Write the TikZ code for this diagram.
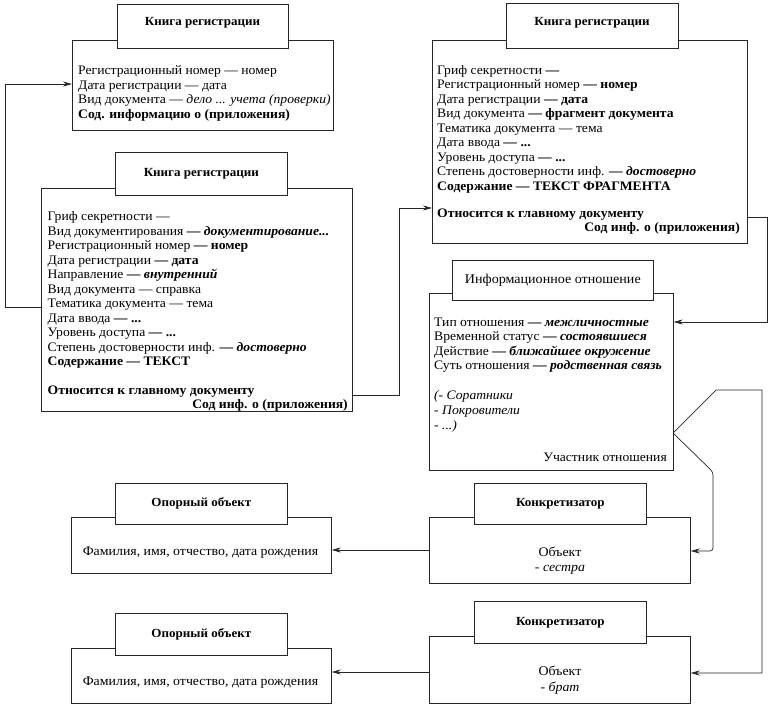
\documentclass[tikz,border=0pt]{standalone}
\usepackage{fontspec}
\setmainfont{Liberation Serif}[FakeStretch=1.05]
\usetikzlibrary{arrows.meta}
\begin{document}
\begin{tikzpicture}[x=1pt,y=-1pt,
  lc/.style={draw=black!85,line width=0.7pt},
  box/.style={lc,rectangle,inner sep=0pt,anchor=north west},
  tfont/.style={font=\bfseries\fontsize{12.4}{14}\selectfont},
  ttl/.style={lc,rectangle,fill=white,inner sep=0pt,anchor=north west,tfont},
  ttn/.style={lc,rectangle,fill=white,inner sep=0pt,anchor=north west,font=\fontsize{13.4}{15}\selectfont},
  txt/.style={anchor=base west,inner sep=0pt,font=\fontsize{13}{14.5}\selectfont},
  txr/.style={anchor=base east,inner sep=0pt,font=\fontsize{13}{14.5}\selectfont},
  ctx/.style={inner sep=0pt,align=center,font=\fontsize{13.2}{15.5}\selectfont},
  arr/.style={lc,-{Stealth[length=9pt,width=5pt]}}]
\useasboundingbox (0,0) rectangle (777,711);
% ---------- box 1 ----------
\node[box,minimum width=261pt,minimum height=90pt] (b1) at (72,40) {};
\node[ttl,minimum width=171pt,minimum height=44pt] (t1) at (117,4) {};
\node[tfont,inner sep=0pt] (t1t) at (202.5,23) {Книга регистрации};
\node[txt] (b1l1) at (78,75) {Регистрационный номер — номер};
\node[txt] (b1l2) at (78,89.5) {Дата регистрации — дата};
\node[txt] (b1l3) at (78,104) {Вид документа — \textit{дело ... учета (проверки)}};
\node[txt] (b1l4) at (78,118.5) {\textbf{Сод. информацию о (приложения)}};
% ---------- box 2 ----------
\node[box,minimum width=311pt,minimum height=223pt] (b2) at (41,188) {};
\node[ttl,minimum width=172pt,minimum height=43pt] (t2) at (115,152) {Книга регистрации};
\node[txt] (b2l1) at (47.5,221) {Гриф секретности —};
\node[txt] (b2l2) at (47.5,235.5) {Вид документирования \textbf{— \textit{документирование...}}};
\node[txt] (b2l3) at (47.5,250) {Регистрационный номер \textbf{— номер}};
\node[txt] (b2l4) at (47.5,264.5) {Дата регистрации \textbf{— дата}};
\node[txt] (b2l5) at (47.5,279) {Направление \textbf{— \textit{внутренний}}};
\node[txt] (b2l6) at (47.5,293.5) {Вид документа — справка};
\node[txt] (b2l7) at (47.5,308) {Тематика документа — тема};
\node[txt] (b2l8) at (47.5,322.5) {Дата ввода \textbf{— ...}};
\node[txt] (b2l9) at (47.5,337) {Уровень доступа \textbf{— ...}};
\node[txt] (b2l10) at (47.5,351.5) {Степень достоверности инф. \textbf{— \textit{достоверно}}};
\node[txt] (b2l11) at (47.5,366) {\textbf{Содержание — ТЕКСТ}};
\node[txt] (b2l12) at (47.5,395) {\textbf{Относится к главному документу}};
\node[txr] (b2l13) at (348,408.5) {\textbf{Сод инф. о (приложения)}};
% ---------- box 3 ----------
\node[box,minimum width=315pt,minimum height=203pt] (b3) at (432,40) {};
\node[ttl,minimum width=172pt,minimum height=45pt] (t3) at (506,3) {};
\node[tfont,inner sep=0pt] (t3t) at (592,23) {Книга регистрации};
\node[txt] (b3l1) at (437,74.5) {Гриф секретности \textbf{—}};
\node[txt] (b3l2) at (437,89) {Регистрационный номер \textbf{— номер}};
\node[txt] (b3l3) at (437,103.5) {Дата регистрации \textbf{— дата}};
\node[txt] (b3l4) at (437,118) {Вид документа \textbf{— фрагмент документа}};
\node[txt] (b3l5) at (437,132.5) {Тематика документа — тема};
\node[txt] (b3l6) at (437,147) {Дата ввода \textbf{— ...}};
\node[txt] (b3l7) at (437,161.5) {Уровень доступа \textbf{— ...}};
\node[txt] (b3l8) at (437,176) {Степень достоверности инф. \textbf{— \textit{достоверно}}};
\node[txt] (b3l9) at (437,190.5) {\textbf{Содержание — ТЕКСТ ФРАГМЕНТА}};
\node[txt] (b3l10) at (437,217.5) {\textbf{Относится к главному документу}};
\node[txr] (b3l11) at (740,232) {\textbf{Сод инф. о (приложения)}};
% ---------- info box ----------
\node[box,minimum width=244pt,minimum height=177pt] (b4) at (429,293) {};
\node[ttn,minimum width=201pt,minimum height=40pt] (t4) at (452,260) {Информационное отношение};
\node[txt] (b4l1) at (434,326.5) {Тип отношения \textbf{— \textit{межличностные}}};
\node[txt] (b4l2) at (434,341) {Временной статус \textbf{— \textit{состоявшиеся}}};
\node[txt] (b4l3) at (434,355.5) {Действие \textbf{— \textit{ближайшее окружение}}};
\node[txt] (b4l4) at (434,370) {Суть отношения \textbf{— \textit{родственная связь}}};
\node[txt] (b4l5) at (434,400) {\textit{(- Соратники}};
\node[txt] (b4l6) at (434,414.5) {\textit{- Покровители}};
\node[txt] (b4l7) at (434,429) {\textit{- ...)}};
\node[txr] (b4l8) at (667,461.5) {Участник отношения};
% ---------- bottom boxes ----------
\node[box,minimum width=260pt,minimum height=56pt] (o1) at (71,517) {};
\node[ttl,minimum width=172pt,minimum height=41pt] (to1) at (115,483) {Опорный объект};
\node[ctx] (o1t) at (200.5,553) {Фамилия, имя, отчество, дата рождения};
\node[box,minimum width=261pt,minimum height=66pt] (k1) at (429,517) {};
\node[ttl,minimum width=172pt,minimum height=41pt] (tk1) at (474,483) {Конкретизатор};
\node[ctx] (k1t) at (560,560.5) {Объект\\- \textit{сестра}};
\node[box,minimum width=260pt,minimum height=55pt] (o2) at (71,648) {};
\node[ttl,minimum width=172pt,minimum height=42pt] (to2) at (115,613) {Опорный объект};
\node[ctx] (o2t) at (200.5,683) {Фамилия, имя, отчество, дата рождения};
\node[box,minimum width=261pt,minimum height=67pt] (k2) at (429,636) {};
\node[ttl,minimum width=172pt,minimum height=42pt] (tk2) at (474,601) {Конкретизатор};
\node[ctx] (k2t) at (560,680) {Объект\\- \textit{брат}};
% ---------- connectors ----------
\coordinate (apex) at (673,433);
\draw[arr] (b2.west |- 0,307) -- (5,307) -- (5,84) -- (b1.west |- 0,84);
\draw[arr] (b2.east |- 0,395) -- (399,395) -- (399,208) -- (b3.west |- 0,208);
\draw[arr] (b3.east |- 0,217) -- (767,217) -- (767,322) -- (b4.east |- 0,322);
\draw[arr] (apex) -- (716,390) -- (762,390) -- (762,673) -- (k2.east |- 0,673);
\draw[arr,rounded corners=3pt] (apex) -- (713,472) -- (713,551) -- (k1.east |- 0,551);
\draw[arr] (k1.west |- 0,550) -- (o1.east |- 0,550);
\draw[arr] (k2.west |- 0,672) -- (o2.east |- 0,672);
\end{tikzpicture}
\end{document}
